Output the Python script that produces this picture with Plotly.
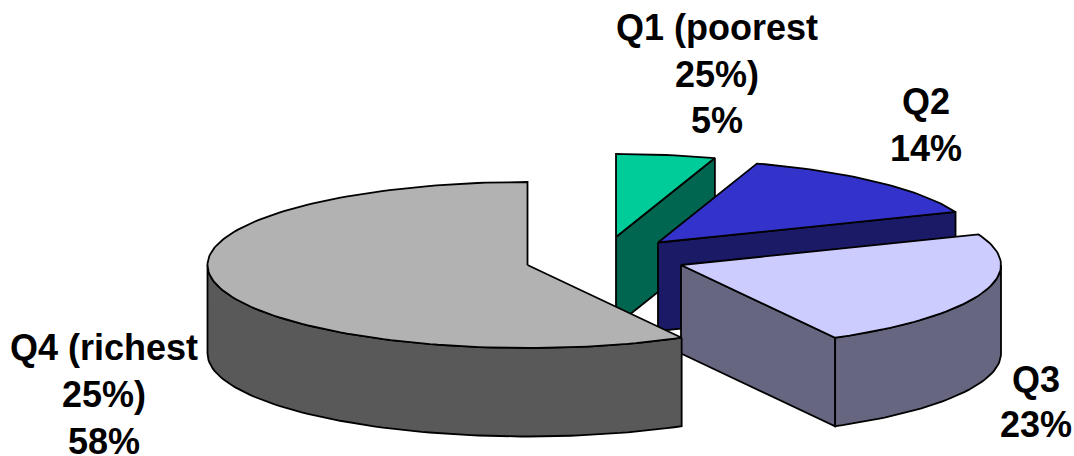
import numpy as np
import plotly.graph_objects as go

# Data
categories = ["Q1", "Q2", "Q3", "Q4"]
shares = [5, 14, 23, 58]
label_lines = [
    ["Q1 (poorest", "25%)", "5%"],
    ["Q2", "14%"],
    ["Q3", "23%"],
    ["Q4 (richest", "25%)", "58%"],
]

# Style
top_colors = ["#00CC99", "#3333CC", "#CCCCFF", "#B2B2B2"]
side_colors = ["#006650", "#1A1A66", "#666680", "#595959"]

# Layout of the tilted pie (screen units)
RX, RY, DEPTH = 320, 83, 88.5
slice_centres = [(616, 237), (658, 242.5), (681, 265), (527.5, 265)]
label_anchor_x = [717, 926, 1036, 104]
label_first_y = [27.5, 101, 379.5, 347.5]
label_step = [46.5, 47, 45, 47]
FONT = "Liberation Sans, Arial, sans-serif"
FONT_SIZE = 36
LINE_W = 1.8

fig = go.Figure()


def point(c, deg, drop=0.0):
    a = np.radians(deg)
    return c[0] + RX * np.sin(a), c[1] - RY * np.cos(a) + drop


def poly(xs, ys, fill):
    fig.add_trace(go.Scatter(
        x=list(xs) + [xs[0]], y=list(ys) + [ys[0]], mode="lines", fill="toself",
        fillcolor=fill, line=dict(color="black", width=LINE_W),
        hoverinfo="skip", showlegend=False))


def arc(c, a0, a1, drop=0.0):
    n = max(2, int(abs(a1 - a0) / 1.5) + 1)
    angs = np.linspace(a0, a1, n)
    return point(c, angs, drop)


edges = np.concatenate([[0], np.cumsum(shares)]) / np.sum(shares) * 360.0

for i, name in enumerate(categories):
    c = slice_centres[i]
    start, end = edges[i], edges[i + 1]
    # cut face at the slice's clockwise end, seen only when it faces the viewer
    if np.sin(np.radians(end)) > 1e-6:
        ex, ey = point(c, end)
        poly([c[0], ex, ex, c[0]], [c[1], ey, ey + DEPTH, c[1] + DEPTH], side_colors[i])
    # cut face at the slice's start
    if np.sin(np.radians(start)) < -1e-6:
        sx, sy = point(c, start)
        poly([c[0], sx, sx, c[0]], [c[1], sy, sy + DEPTH, c[1] + DEPTH], side_colors[i])
    # outer rim: front half of the ellipse only
    r0, r1 = max(start, 90), min(end, 270)
    if r1 > r0:
        tx, ty = arc(c, r0, r1)
        bx, by = arc(c, r1, r0, DEPTH)
        poly(np.concatenate([tx, bx]), np.concatenate([ty, by]), side_colors[i])
    # top surface
    ax, ay = arc(c, start, end)
    poly(np.concatenate([[c[0]], ax]), np.concatenate([[c[1]], ay]), top_colors[i])

annotations = []
for i, lines in enumerate(label_lines):
    for j, line in enumerate(lines):
        annotations.append(dict(
            x=label_anchor_x[i], y=label_first_y[i] + j * label_step[i], text=f"<b>{line}</b>",
            xref="x", yref="y", showarrow=False, xanchor="center", yanchor="middle",
            font=dict(family=FONT, size=FONT_SIZE, color="black")))

fig.update_layout(
    width=1074, height=456, margin=dict(l=0, r=0, t=0, b=0),
    paper_bgcolor="white", plot_bgcolor="white", showlegend=False,
    xaxis=dict(range=[0, 1074], visible=False, fixedrange=True),
    yaxis=dict(range=[456, 0], visible=False, fixedrange=True),
    annotations=annotations,
)

fig.write_html("out.html", config=dict(displayModeBar=False),
               post_script="document.body.style.margin='0';document.documentElement.style.overflow='hidden';")
